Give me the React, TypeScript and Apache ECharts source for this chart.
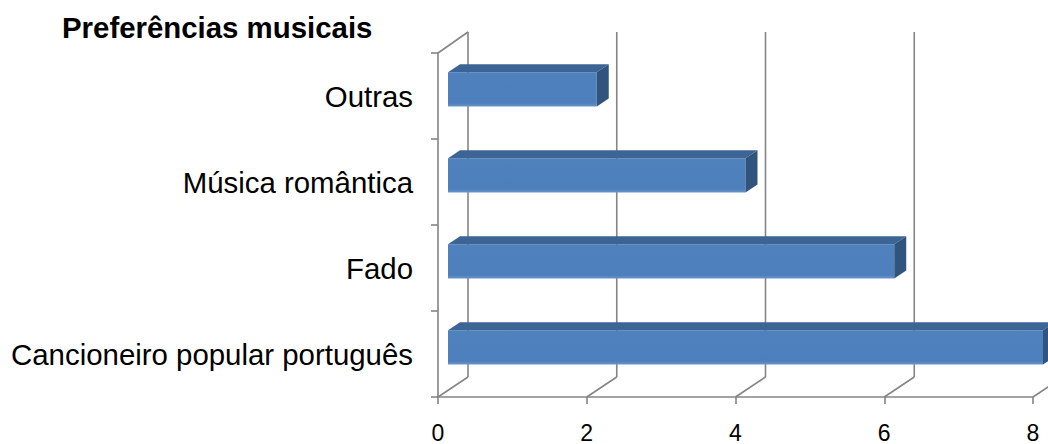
import React, { useEffect, useRef } from "react";
import * as echarts from "echarts";

const title = "Preferências musicais";
const categories = ["Cancioneiro popular português", "Fado", "Música romântica", "Outras"];
const values = [8, 6, 4, 2];
const xTicks = [0, 2, 4, 6, 8];

const GRID_LINE = "#858585";
const DEPTH_X = 30;
const DEPTH_Y = -20;

export default function App() {
  const ref = useRef<HTMLDivElement>(null);
  useEffect(() => {
    document.body.style.margin = "0";
    const chart = echarts.init(ref.current!, undefined, { renderer: "svg" });
    const option: any = {
      animation: false,
      backgroundColor: "#ffffff",
      title: {
        text: title,
        left: 62,
        top: 13,
        padding: 0,
        textStyle: { fontFamily: "Liberation Sans, Arial", fontSize: 29.4, fontWeight: "bold", color: "#000" },
      },
      grid: { left: 438, right: 15, top: 53, bottom: 45 },
      xAxis: {
        type: "value",
        min: 0,
        max: 8,
        interval: 2,
        axisLine: { show: true, lineStyle: { color: GRID_LINE, width: 1.6 } },
        axisTick: { show: true, length: 7, lineStyle: { color: GRID_LINE, width: 1.6 } },
        axisLabel: { margin: 24, fontFamily: "Liberation Sans, Arial", fontSize: 23, color: "#000" },
        splitLine: { show: false },
      },
      yAxis: {
        type: "category",
        data: categories,
        axisLine: { show: true, lineStyle: { color: GRID_LINE, width: 1.6 } },
        axisTick: { show: true, length: 7, interval: 0, lineStyle: { color: GRID_LINE, width: 1.6 } },
        axisLabel: { margin: 25, fontFamily: "Liberation Sans, Arial", fontSize: 29.4, color: "#000" },
      },
      series: [
        {
          type: "custom",
          name: "walls",
          z: 1,
          silent: true,
          clip: false,
          encode: { x: 0 },
          data: xTicks.map((t) => [t]),
          renderItem: (params: any, api: any) => {
            const v = api.value(0);
            const cs = params.coordSys;
            const x = api.coord([v, 0])[0];
            const top = cs.y;
            const bottom = cs.y + cs.height;
            const ls = { stroke: GRID_LINE, lineWidth: 1.6 };
            const children: any[] = [
              { type: "line", shape: { x1: x + DEPTH_X, y1: top + DEPTH_Y - 1, x2: x + DEPTH_X, y2: bottom + DEPTH_Y }, style: ls },
              { type: "line", shape: { x1: x, y1: bottom, x2: x + DEPTH_X, y2: bottom + DEPTH_Y }, style: ls },
            ];
            if (v === 0) {
              children.push({ type: "line", shape: { x1: x, y1: top, x2: x + DEPTH_X, y2: top + DEPTH_Y - 1 }, style: ls });
            }
            return { type: "group", children };
          },
        },
        {
          type: "custom",
          name: "bars",
          z: 3,
          clip: false,
          encode: { x: 0, y: 1 },
          data: values.map((v, i) => [v, i]),
          renderItem: (params: any, api: any) => {
            const v = api.value(0);
            const ci = api.value(1);
            const p0 = api.coord([0, ci]);
            const p1 = api.coord([v, ci]);
            const band = api.size([0, 1])[1];
            const h = band * 0.4;
            const x = p0[0] + DEPTH_X / 3;
            const y = p0[1] + DEPTH_Y / 3 - h / 2;
            const w = p1[0] - p0[0];
            const dx = 12;
            const dy = -8;
            return {
              type: "group",
              children: [
                {
                  type: "rect",
                  shape: { x, y, width: w, height: h },
                  style: {
                    fill: new echarts.graphic.LinearGradient(0, 0, 0, 1, [
                      { offset: 0, color: "#4f81bd" },
                      { offset: 0.9, color: "#4d7fbc" },
                      { offset: 1, color: "#6b96c9" },
                    ]),
                  },
                },
                {
                  type: "polygon",
                  shape: { points: [[x, y], [x + dx, y + dy], [x + w + dx, y + dy], [x + w, y]] },
                  style: { fill: "#3c6494" },
                },
                {
                  type: "polygon",
                  shape: { points: [[x + w, y], [x + w + dx, y + dy], [x + w + dx, y + h + dy], [x + w, y + h]] },
                  style: { fill: "#31547f" },
                },
              ],
            };
          },
        },
      ],
    };
    chart.setOption(option);
    return () => chart.dispose();
  }, []);
  return <div ref={ref} style={{ width: 1048, height: 444 }} />;
}
